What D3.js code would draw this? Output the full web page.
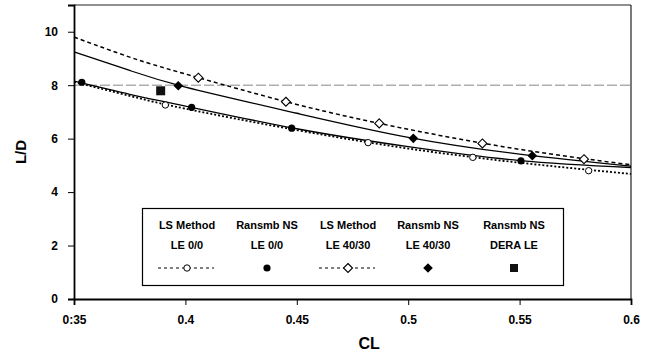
<!DOCTYPE html>
<html><head><meta charset="utf-8">
<script src="https://cdn.jsdelivr.net/npm/d3@7"></script>
<style>
html,body{margin:0;padding:0;background:#fff;}
svg{display:block;font-family:"Liberation Sans",Arial,sans-serif;}
</style></head>
<body><svg id="c" width="650" height="356"></svg>
<script>
// ---- data ----
const xTicks = [0.35, 0.4, 0.45, 0.5, 0.55, 0.6];
const xTickLabels = ["0:35", "0.4", "0.45", "0.5", "0.55", "0.6"];
const yTicks = [0, 2, 4, 6, 8, 10];
const gridY = [8];

// measured points [CL, L/D]
const lsLE00 = [[0.391, 7.26], [0.482, 5.85], [0.529, 5.30], [0.581, 4.80]];
const ransLE00 = [[0.3535, 8.11], [0.4028, 7.17], [0.4477, 6.39], [0.5506, 5.17]];
const lsLE4030 = [[0.4058, 8.28], [0.4451, 7.38], [0.487, 6.57], [0.5333, 5.82], [0.5789, 5.23]];
const ransLE4030 = [[0.3968, 7.98], [0.5023, 6.01], [0.5557, 5.36]];
const ransDERA = [[0.3889, 7.79]];

// trend curves
const fitX = [0.35, 0.375, 0.4, 0.45, 0.5, 0.55, 0.6];
const fitLsLE00 = [8.12, 7.60, 7.12, 6.32, 5.63, 5.10, 4.68];
const fitRansLE00 = [8.15, 7.66, 7.22, 6.37, 5.70, 5.18, 4.92];
const fitLsLE4030 = [9.80, 9.05, 8.42, 7.28, 6.35, 5.60, 5.02];
const fitRansLE4030 = [9.25, 8.55, 7.93, 6.95, 6.05, 5.42, 4.97];

const legendTitles = [["LS Method", "LE 0/0"], ["Ransmb NS", "LE 0/0"], ["LS Method", "LE 40/30"], ["Ransmb NS", "LE 40/30"], ["Ransmb NS", "DERA LE"]];

// ---- layout ----
const svg = d3.select("#c");
const m = {l: 74, t: 5, r: 19, b: 57};
const W = 650 - m.l - m.r, H = 356 - m.t - m.b;
const x = d3.scaleLinear().domain([0.35, 0.6]).range([0, W]);
const y = d3.scaleLinear().domain([0, 11]).range([H, 0]);
const g = svg.append("g").attr("transform", `translate(${m.l},${m.t})`);

// gridline
g.selectAll(".grid").data(gridY).join("line")
  .attr("x1", 0).attr("x2", W).attr("y1", d => y(d)).attr("y2", d => y(d))
  .attr("stroke", "#888").attr("stroke-width", 1).attr("stroke-dasharray", "10,3");

// frame top/right
g.append("line").attr("x1", 0).attr("x2", W).attr("y1", 0).attr("y2", 0).attr("stroke", "#222").attr("stroke-width", 1.2);
g.append("line").attr("x1", W).attr("x2", W).attr("y1", 0).attr("y2", H).attr("stroke", "#222").attr("stroke-width", 1.2);

// axes
const ax = g.append("g").attr("transform", `translate(0,${H})`)
  .call(d3.axisBottom(x).tickValues(xTicks).tickFormat((d, i) => xTickLabels[i]).tickSize(6).tickPadding(10));
const ay = g.append("g")
  .call(d3.axisLeft(y).tickValues(yTicks).tickFormat(d3.format("d")).tickSize(6).tickPadding(10));
[ax, ay].forEach(a => {
  a.select(".domain").attr("stroke", "#000").attr("stroke-width", 1.8);
  a.selectAll(".tick line").attr("stroke", "#000").attr("stroke-width", 1);
  a.selectAll("text").attr("font-size", 12).attr("font-weight", "bold").attr("fill", "#000")
    .attr("font-family", "'Liberation Sans',Arial,sans-serif");
});

// axis titles
svg.append("text").attr("x", m.l + x(0.4825)).attr("y", 349).attr("text-anchor", "middle")
  .attr("font-size", 16).attr("font-weight", "bold").text("CL");
svg.append("text").attr("transform", "translate(26,152) rotate(-90)").attr("text-anchor", "middle")
  .attr("font-size", 15).attr("font-weight", "bold").text("L/D");

// curves
const line = d3.line().x(d => x(d[0])).y(d => y(d[1])).curve(d3.curveNatural);
const zip = ys => fitX.map((v, i) => [v, ys[i]]);
g.append("path").attr("d", line(zip(fitLsLE4030))).attr("fill", "none").attr("stroke", "#000")
  .attr("stroke-width", 1.5).attr("stroke-dasharray", "4,3");
g.append("path").attr("d", line(zip(fitRansLE4030))).attr("fill", "none").attr("stroke", "#000").attr("stroke-width", 1.3);
g.append("path").attr("d", line(zip(fitRansLE00))).attr("fill", "none").attr("stroke", "#000").attr("stroke-width", 1.3);
g.append("path").attr("d", line(zip(fitLsLE00))).attr("fill", "none").attr("stroke", "#000")
  .attr("stroke-width", 1.8).attr("stroke-dasharray", "2,2");

// markers
const diamond = s => `M0,${-s}L${s},0L0,${s}L${-s},0Z`;
function openCircle(sel) { sel.append("circle").attr("r", 3.2).attr("fill", "#fff").attr("stroke", "#000").attr("stroke-width", 1); }
function filledCircle(sel) { sel.append("circle").attr("r", 3.6).attr("fill", "#000"); }
function openDiamond(sel) { sel.append("path").attr("d", diamond(4.5)).attr("fill", "#fff").attr("stroke", "#000").attr("stroke-width", 1.1); }
function filledDiamond(sel) { sel.append("path").attr("d", diamond(4.8)).attr("fill", "#000"); }
function filledSquare(sel) { sel.append("rect").attr("x", -4.5).attr("y", -4.5).attr("width", 9).attr("height", 9).attr("fill", "#111"); }

function plot(data, fn) {
  g.append("g").selectAll("g").data(data).join("g")
    .attr("transform", d => `translate(${x(d[0])},${y(d[1])})`).each(function () { fn(d3.select(this)); });
}
plot(lsLE00, openCircle);
plot(lsLE4030, openDiamond);
plot(ransLE00, filledCircle);
plot(ransLE4030, filledDiamond);
plot(ransDERA, filledSquare);

// legend
const lg = svg.append("g");
lg.append("rect").attr("x", 142.5).attr("y", 208.5).attr("width", 421).attr("height", 77)
  .attr("fill", "#fff").attr("stroke", "#000").attr("stroke-width", 1.2);
const colX = [187, 267, 348, 428, 514];
legendTitles.forEach((t, i) => {
  lg.append("text").attr("x", colX[i]).attr("y", 229).attr("text-anchor", "middle")
    .attr("font-size", 11).attr("font-weight", "bold").text(t[0]);
  lg.append("text").attr("x", colX[i]).attr("y", 249).attr("text-anchor", "middle")
    .attr("font-size", 11).attr("font-weight", "bold").text(t[1]);
});
const symY = 268;
[0, 2].forEach(i => {
  lg.append("line").attr("x1", colX[i] - 29).attr("x2", colX[i] + 27).attr("y1", symY).attr("y2", symY)
    .attr("stroke", "#000").attr("stroke-width", 1).attr("stroke-dasharray", "3,3");
});
const fns = [openCircle, filledCircle, openDiamond, filledDiamond, filledSquare];
fns.forEach((fn, i) => {
  const s = lg.append("g").attr("transform", `translate(${colX[i]},${symY})`);
  fn(s);
});
lg.selectAll("rect").filter(function () { return this.parentNode !== lg.node(); })
  .attr("x", -4).attr("y", -4).attr("width", 8).attr("height", 8);
</script></body></html>
